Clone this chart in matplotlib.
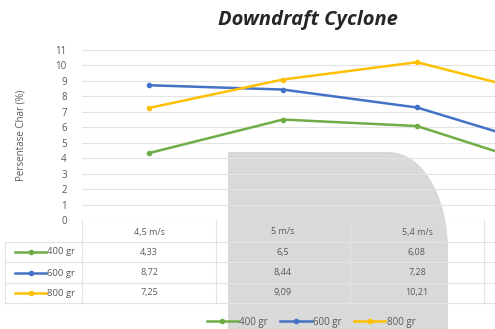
import matplotlib
matplotlib.use("Agg")
import matplotlib.pyplot as plt
from matplotlib.lines import Line2D
from matplotlib.patches import PathPatch
from matplotlib.path import Path

# --- data ---------------------------------------------------------------
categories = ["4,5 m/s", "5 m/s", "5,4 m/s", "5,8 m/s"]
series_names = ["400 gr", "600 gr", "800 gr"]
values_400 = [4.33, 6.5, 6.08, 3.3]
values_600 = [8.72, 8.44, 7.28, 4.65]
values_800 = [7.25, 9.09, 10.21, 8.0]
y_ticks = list(range(0, 12))

series = [values_400, values_600, values_800]
colors = ["#70ad47", "#4472c4", "#ffc000"]

W, H = 495, 329
fig = plt.figure(figsize=(W / 100, H / 100), dpi=100)
fig.patch.set_facecolor("white")
plt.rcParams["font.family"] = ["Open Sans", "DejaVu Sans"]

TXT = "#595959"
GRID = "#e3e3e3"


def fx(x):
    return x / W


def fy(y):
    return 1 - y / H


# plot area: 11 -> y=50px, 0 -> y=220px; column width 134px starting at x=82
col_w = 134
left_px, top_px, bot_px = 82, 50, 220
ax = fig.add_axes([fx(left_px), fy(bot_px), col_w * len(categories) / W,
                   (bot_px - top_px) / H])
ax.patch.set_alpha(0)
ax.set_xlim(0, len(categories))
ax.set_ylim(0, 11)
ax.set_yticks(y_ticks)
ax.set_yticklabels([str(t) for t in y_ticks], fontsize=7, color=TXT)
ax.tick_params(axis="y", length=0, pad=11)
ax.set_xticks([])
for s in ax.spines.values():
    s.set_visible(False)
ax.grid(axis="y", color=GRID, linewidth=0.8)
ax.set_axisbelow(True)
ax.set_ylabel("Persentase Char (%)", fontsize=7, color=TXT, labelpad=21)

xs = [i + 0.5 for i in range(len(categories))]
for vals, c, name in zip(series, colors, series_names):
    ax.plot(xs, vals, color=c, linewidth=1.8, marker="o", markersize=3,
            label=name, clip_on=False, zorder=3)

# gray rounded block in the lower middle
verts = [(fx(228), fy(329)), (fx(228), fy(152)), (fx(388), fy(152)),
         (fx(425), fy(152)), (fx(448), fy(200)), (fx(448), fy(250)),
         (fx(448), fy(329)), (fx(228), fy(329))]
codes = [Path.MOVETO, Path.LINETO, Path.LINETO, Path.CURVE4, Path.CURVE4,
         Path.CURVE4, Path.LINETO, Path.CLOSEPOLY]
fig.add_artist(PathPatch(Path(verts, codes), facecolor="#d9d9d9",
                         edgecolor="none", transform=fig.transFigure,
                         zorder=-1))

# --- data table under the plot -----------------------------------------
row_lines = [242, 262, 283, 303]
row_centers = [232, 252, 273, 293]
table_right = left_px + col_w * len(categories)
for y in row_lines:
    fig.add_artist(Line2D([fx(5), fx(table_right)], [fy(y), fy(y)],
                          color=GRID, linewidth=0.8, transform=fig.transFigure))
fig.add_artist(Line2D([fx(5), fx(5)], [fy(row_lines[0]), fy(row_lines[-1])],
                      color=GRID, linewidth=0.8, transform=fig.transFigure))
for i in range(len(categories) + 1):
    x = left_px + col_w * i
    fig.add_artist(Line2D([fx(x), fx(x)], [fy(bot_px), fy(row_lines[-1])],
                          color=GRID, linewidth=0.8, transform=fig.transFigure))

for i, cat in enumerate(categories):
    cx = left_px + col_w * (i + 0.5)
    if cx > W:
        continue  # column lies beyond the canvas edge
    fig.text(fx(cx), fy(row_centers[0]), cat, ha="center", va="center",
             fontsize=6.5, color=TXT)
    for r, vals in enumerate(series):
        txt = f"{vals[i]:g}".replace(".", ",")
        fig.text(fx(cx), fy(row_centers[r + 1]), txt, ha="center",
                 va="center", fontsize=6.5, color=TXT)

for r, (name, c) in enumerate(zip(series_names, colors)):
    yc = row_centers[r + 1]
    fig.add_artist(Line2D([fx(15), fx(46)], [fy(yc), fy(yc)], color=c,
                          linewidth=1.8, transform=fig.transFigure))
    fig.add_artist(Line2D([fx(30.5)], [fy(yc)], color=c, marker="o",
                          markersize=3, transform=fig.transFigure))
    fig.text(fx(47), fy(yc), name, ha="left", va="center", fontsize=6.8,
             color=TXT)

# --- legend and title -------------------------------------------------------
handles, labels = ax.get_legend_handles_labels()
fig.legend(handles, labels, loc="center", ncol=3,
           bbox_to_anchor=(fx(311), fy(322)), frameon=False, fontsize=7,
           handlelength=3.2, handletextpad=0.15, columnspacing=1.3,
           labelcolor=TXT)

fig.text(fx(308), fy(20), "Downdraft Cyclone", ha="center", va="center",
         fontsize=14.5, fontweight="bold", fontstyle="italic", color="#262626")

fig.savefig("out.png", dpi=100)
